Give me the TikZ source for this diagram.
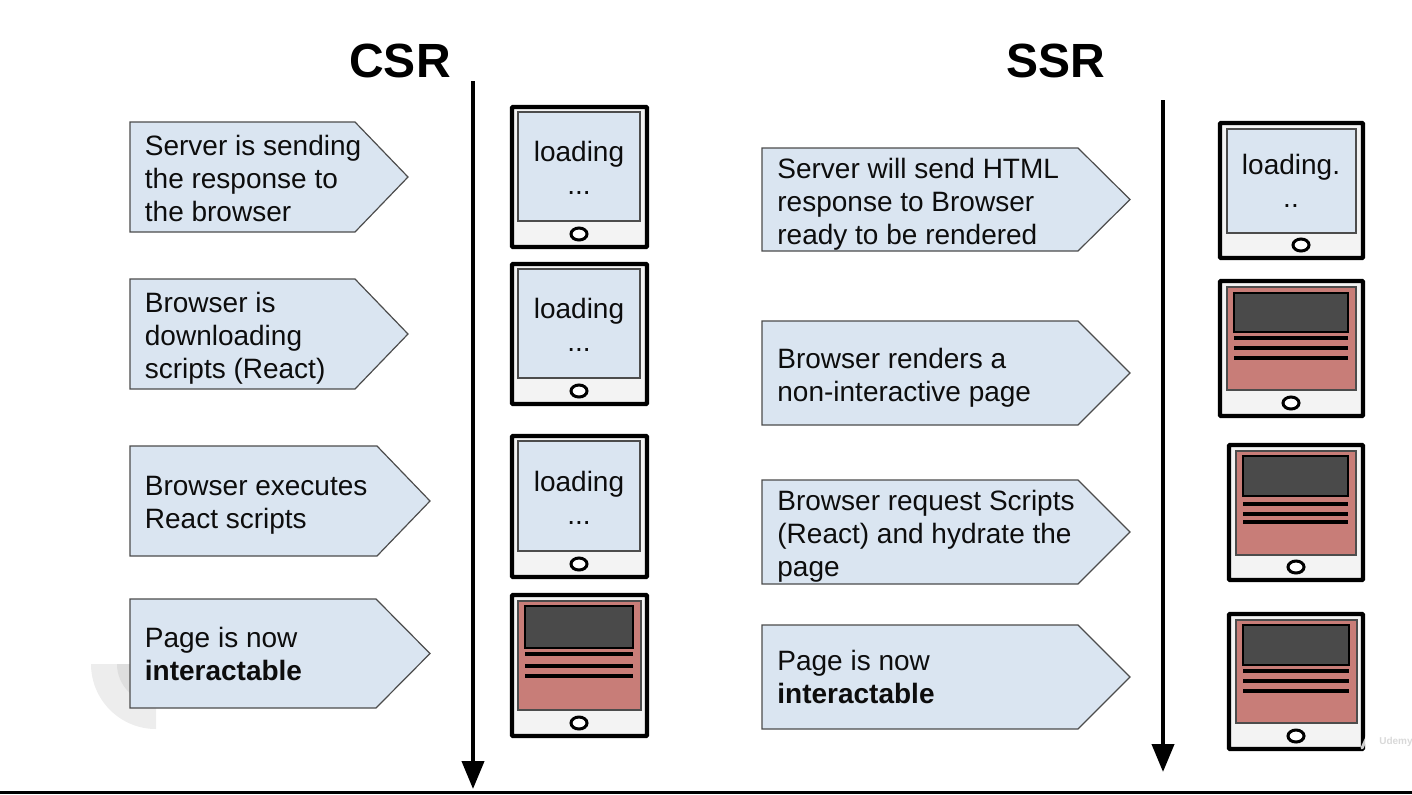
\documentclass[tikz,border=0pt]{standalone}
\usepackage{fontspec}
\setmainfont{Liberation Sans}
\usetikzlibrary{arrows.meta}
\definecolor{boxblue}{HTML}{DAE5F1}
\definecolor{pagered}{HTML}{C87D78}
\definecolor{pagedark}{HTML}{4A4A4A}
\definecolor{tabletgray}{HTML}{F3F3F3}
\tikzset{
    stepshape/.style={draw=black!70,fill=boxblue,line width=0.6pt,line join=miter},
    steptext/.style={anchor=west,align=left,inner sep=0pt,font=\fontsize{14}{16.5}\selectfont,text=black!95},
    tabletframe/.style={draw=black,fill=tabletgray,line width=2.2pt,rounded corners=0.5pt},
    screenbox/.style={draw=black!70,line width=0.6pt},
    tablettext/.style={align=center,inner sep=0pt,font=\fontsize{14}{16.5}\selectfont,text=black!95},
    pageline/.style={draw=black,line width=2.4pt},
    timeline/.style={draw=black,line width=2pt,-{Triangle[length=14pt,width=11pt]}},
    heading/.style={inner sep=0pt,font=\fontsize{24}{26}\selectfont\bfseries}
}
\begin{document}
\begin{tikzpicture}[x=0.5pt,y=-0.5pt]
    \useasboundingbox (0,0) rectangle (1412,794);
    % watermark
    \fill[black!7] (91,664) arc[start angle=180,end angle=270,radius=32.5pt] -- (156,664) -- cycle;
    \fill[black!13] (117,664) arc[start angle=180,end angle=270,radius=19.5pt] -- (156,664) -- cycle;
    % headings
    \node[heading] (csrtitle) at (400,61) {CSR};
    \node[heading] (ssrtitle) at (1056,61) {SSR};
    % time arrows
    \coordinate (csrtop) at (473,81);
    \coordinate (csrend) at (473,789);
    \coordinate (ssrtop) at (1163,100);
    \coordinate (ssrend) at (1163,772);
    \draw[timeline] (csrtop)--(csrend);
    \draw[timeline] (ssrtop)--(ssrend);
    % steps
    \foreach \n/\xa/\xn/\xt/\ya/\yb/\tx/\ty/\lab in {
        csra/130/355/408/122/232/144.5/178/{Server is sending\\the response to\\the browser},
        csrb/130/355/408/279/389/144.5/338/{Browser is\\downloading\\scripts (React)},
        csrc/130/377/430/446/556/144.5/505/{Browser executes\\React scripts},
        csrd/130/376/430/599/708/144.5/654/{Page is now\\\textbf{interactable}},
        ssra/762/1078/1130/148/251/777/204/{Server will send HTML\\response to Browser\\ready to be rendered},
        ssrb/762/1078/1130/321/425/777/378/{Browser renders a\\non-interactive page},
        ssrc/762/1078/1130/480/584/777/536/{Browser request Scripts\\(React) and hydrate the\\page},
        ssrd/762/1078/1130/625/729/777/677/{Page is now\\\textbf{interactable}}}{
        \draw[stepshape] (\xa,\ya)--(\xn,\ya)--(\xt,{(\ya+\yb)/2})--(\xn,\yb)--(\xa,\yb)--cycle;
        \node[steptext] (\n text) at (\tx,\ty) {\lab};
    }
    % tablets
    \foreach \n/\xa/\ya/\xb/\yb/\bx in {
        tcsra/512/107/647/247/579, tcsrb/512/264/647/404/579,
        tcsrc/512/436/647/577/579, tcsrd/512/595/647/736/579,
        tssra/1220/123/1363/258/1301, tssrb/1220/281/1363/416/1291,
        tssrc/1229/445/1363/580/1296, tssrd/1229/614/1363/749/1296}{
        \draw[tabletframe] (\xa,\ya) rectangle (\xb,\yb);
        \draw[black,line width=1.5pt,fill=white] (\bx,\yb-13) ellipse[x radius=4pt,y radius=3pt];
    }
    % loading screens
    \foreach \n/\xa/\ya/\xb/\yb/\tx/\ty/\lab in {
        ldcsra/518/112/640/221/579/168/{loading\\...},
        ldcsrb/518/269/640/378/579/325/{loading\\...},
        ldcsrc/518/441/640/551/579/498/{loading\\...},
        ldssra/1227/129/1356/233/1291/181/{loading.\\..}}{
        \draw[screenbox,fill=boxblue] (\xa,\ya) rectangle (\xb,\yb);
        \node[tablettext] (\n) at (\tx,\ty) {\lab};
    }
    % page screens
    \foreach \xa/\ya/\xb/\yb/\da/\db/\la/\lb/\lc in {
        518/601/641/710/606/648/654/666/676,
        1227/287/1356/390/293/332/338/348/358,
        1236/451/1356/555/456/496/504/514/522,
        1236/620/1357/723/625/665/671/681/691}{
        \draw[screenbox,fill=pagered] (\xa,\ya) rectangle (\xb,\yb);
        \draw[draw=black,line width=0.7pt,fill=pagedark] (\xa+7,\da) rectangle (\xb-8,\db);
        \draw[pageline] (\xa+7,\la)--(\xb-8,\la);
        \draw[pageline] (\xa+7,\lb)--(\xb-8,\lb);
        \draw[pageline] (\xa+7,\lc)--(\xb-8,\lc);
    }
    % bottom edge
    \fill[black] (0,791) rectangle (1412,794);
    % logo
    \draw[white,opacity=0.8,line width=1.5pt,line cap=round] (1362,748)--(1368,735)--(1374,748);
    \node[inner sep=0pt,font=\fontsize{5}{6}\selectfont\bfseries,text=black!15] (udemy) at (1396,742) {Udemy};
\end{tikzpicture}
\end{document}
